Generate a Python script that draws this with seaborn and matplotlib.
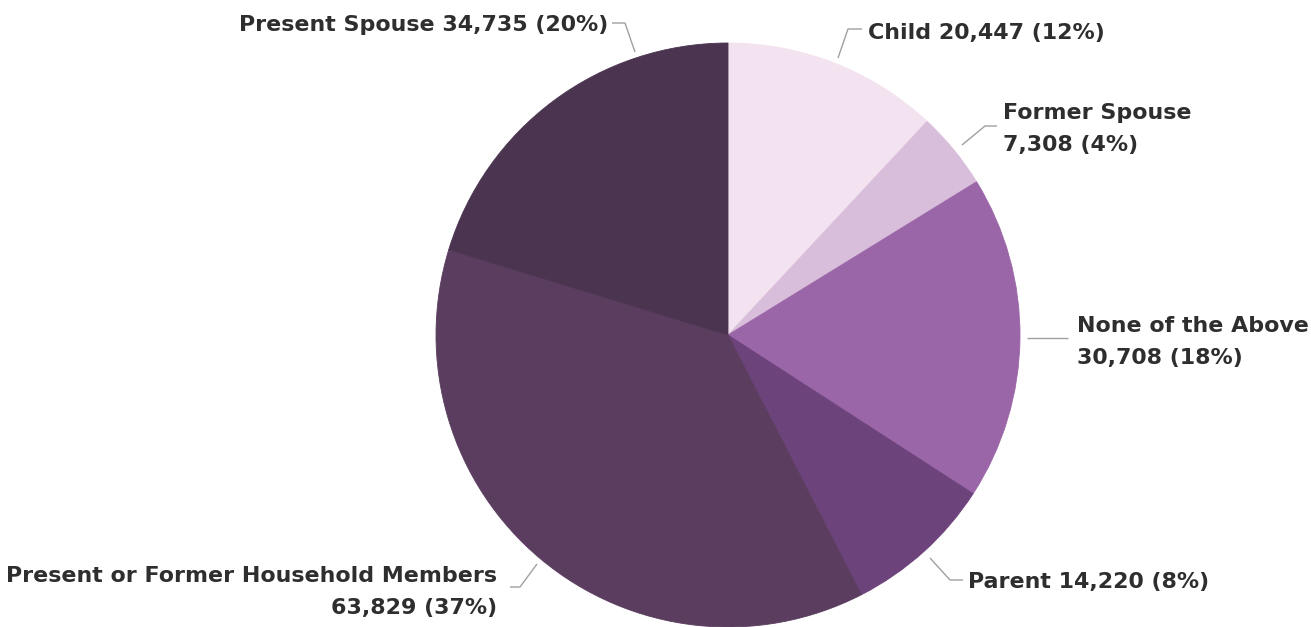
import matplotlib
matplotlib.use("Agg")
import matplotlib.pyplot as plt
import seaborn as sns

# Relationship categories, clockwise from 12 o'clock
categories = ["Child", "Former Spouse", "None of the Above", "Parent",
              "Present or Former Household Members", "Present Spouse"]
counts = [20447, 7308, 30708, 14220, 63829, 34735]
colors = ["#f3e2ef", "#d9bedb", "#9b66a8", "#6d437c", "#5b3d5f", "#4a3450"]

W, H = 1311, 627

sns.set_theme(style="white")
plt.rcParams["font.family"] = ["DejaVu Sans"]

fig = plt.figure(figsize=(W / 100, H / 100), dpi=100)
ax = fig.add_axes([0, 0, 1, 1])

total = sum(counts)
pal = sns.color_palette(colors)
wedges, _ = ax.pie(counts, colors=pal, startangle=90, counterclock=False,
                   radius=292, center=(728, H - 335),
                   wedgeprops=dict(linewidth=0.6))
for w in wedges:
    w.set_edgecolor(w.get_facecolor())
ax.set_xlim(0, W)
ax.set_ylim(0, H)
ax.set_aspect("auto")
ax.axis("off")


def fmt(name, v, split):
    pct = f"{round(100 * v / total)}%"
    sep = "\n" if split else " "
    return f"{name}{sep}{v:,} ({pct})"


# label layout: text anchor (px), alignment, split into two lines, connector path (px)
layout = {
    "Child": ((868, 33), "left", False, [(838, 58), (848, 29), (862, 29)]),
    "Former Spouse": ((1003, 129), "left", True, [(962, 145), (985, 126), (997, 126)]),
    "None of the Above": ((1077, 342), "left", True, [(1027, 338), (1068, 338)]),
    "Parent": ((968, 582), "left", False, [(930, 558), (950, 580), (963, 580)]),
    "Present or Former Household Members": ((497, 592), "right", True,
                                            [(537, 564), (520, 587), (510, 587)]),
    "Present Spouse": ((608, 25), "right", False, [(635, 52), (625, 23), (612, 23)]),
}

for name, v in zip(categories, counts):
    (tx, ty), ha, split, path = layout[name]
    xs = [p[0] for p in path]
    ys = [H - p[1] for p in path]
    ax.plot(xs, ys, color="#a0a0a0", lw=1.0, solid_capstyle="butt")
    ax.text(tx, H - ty, fmt(name, v, split), ha=ha, va="center",
            multialignment=ha, fontsize=15.9, fontweight="bold",
            color="#2e2e2e", linespacing=1.78)

fig.savefig("out.png", dpi=100, facecolor="white")
